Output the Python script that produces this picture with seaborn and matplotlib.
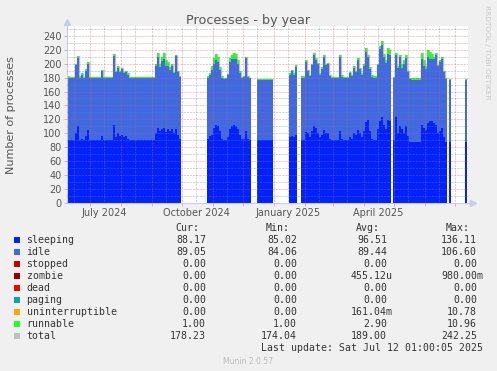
import numpy as np
import pandas as pd
import matplotlib
matplotlib.use('Agg')
import matplotlib.pyplot as plt
import matplotlib.dates as mdates
from matplotlib.patches import Rectangle
from matplotlib.lines import Line2D
import seaborn as sns

W, H = 497, 371

# data: 2-day bins starting 2024-06-08, None = no data (gaps in the graph)
start = pd.Timestamp('2024-06-08')

sleeping = [
    90, 90, 90, 90, 100, 110, 90, 92, 90, 96,
    105, 90, 90, 90, 90, 90, 90, 96, 90, 90,
    90, 90, 90, 112, 95, 100, 96, 98, 94, 96,
    92, 90, 90, 90, 90, 90, 90, 90, 90, 90,
    90, 90, 90, 90, 100, 108, 104, 106, 108, 102,
    106, 104, 106, 100, 106, 98, 92, None, None, None,
    None, None, None, None, None, None, None, None, None, None,
    92, 96, 98, 108, 112, 110, 104, 92, 90, 90,
    94, 106, 110, 112, 110, 106, 98, 92, 92, 104,
    92, 90, None, None, None, 90, 90, 90, 90, 90,
    90, 90, 90, None, None, None, None, None, None, None,
    None, 94, 96, 94, 98, None, None, 90, 90, 102,
    100, 94, 104, 110, 108, 100, 94, 98, 105, 100,
    100, 92, 90, 90, 90, 90, 104, 92, 90, 90,
    90, 94, 92, 100, 98, 105, 100, 94, 104, 116,
    119, 104, 92, 91, 91, 106, 118, 124, 112, 106,
    119, 118, None, 90, 124, 100, 110, 106, 100, 110,
    96, 88, 88, 88, 88, 88, 88, 112, 108, 105,
    115, 117, 117, 115, 112, 100, 104, 107, 95, 88,
    None, 88, None, None, None, None, None, None, None, 88,
]
idle = [
    89, 89, 90, 90, 98, 98, 90, 91, 90, 94,
    95, 90, 90, 90, 90, 90, 90, 94, 90, 90,
    90, 90, 90, 99, 93, 94, 92, 94, 92, 92,
    92, 90, 90, 90, 90, 90, 90, 90, 90, 90,
    90, 90, 90, 90, 97, 102, 91, 98, 99, 95,
    91, 87, 90, 86, 105, 90, 89, None, None, None,
    None, None, None, None, None, None, None, None, None, None,
    88, 88, 93, 92, 93, 92, 87, 88, 88, 88,
    89, 97, 96, 94, 96, 94, 89, 87, 89, 104,
    89, 89, None, None, None, 87, 87, 87, 87, 87,
    87, 87, 87, None, None, None, None, None, None, None,
    None, 90, 93, 90, 97, None, None, 90, 90, 100,
    89, 88, 94, 102, 97, 99, 90, 95, 105, 98,
    99, 90, 89, 89, 89, 89, 106, 89, 89, 89,
    89, 92, 90, 94, 90, 100, 92, 90, 93, 101,
    90, 89, 89, 89, 89, 92, 103, 103, 98, 95,
    95, 94, None, 89, 88, 94, 99, 88, 99, 98,
    92, 90, 89, 89, 89, 89, 89, 95, 89, 88,
    94, 90, 89, 91, 100, 96, 99, 100, 93, 90,
    None, 89, None, None, None, None, None, None, None, 89,
]
runnable = [
    3, 2, 1, 1, 2, 3, 2, 3, 1, 2,
    2, 1, 1, 1, 1, 1, 1, 1, 1, 1,
    1, 1, 1, 3, 2, 2, 2, 2, 2, 2,
    2, 1.5, 1.5, 1.5, 1.5, 1.5, 1.5, 1.5, 1.5, 1.5,
    1.5, 1.5, 1.5, 1.5, 3, 5, 5, 6, 8, 8,
    6, 4, 3, 2, 2, 2, 1, None, None, None,
    None, None, None, None, None, None, None, None, None, None,
    2, 3, 5, 8, 9, 8, 4, 2, 2, 2,
    2, 5, 7, 9, 8, 5, 3, 2, 1, 2,
    1, 1, None, None, None, 1, 1, 1, 1, 1,
    1, 1, 1, None, None, None, None, None, None, None,
    None, 2, 2, 2, 3, None, None, 2, 2, 3,
    2, 2, 2, 3, 3, 2, 2, 2, 3, 2,
    2, 2, 2, 2, 2, 2, 2, 2, 2, 2,
    2, 2, 2, 2, 2, 3, 2, 2, 3, 5,
    4, 2, 2, 2, 2, 2, 4, 5, 4, 4,
    8, 8, None, 2, 3, 2, 4, 6, 6, 5,
    2, 2, 2, 2, 2, 2, 2, 8, 8, 3,
    10, 10, 8, 4, 3, 2, 2, 3, 2, 2,
    None, 1, None, None, None, None, None, None, None, 1,
]

names = ['sleeping', 'idle', 'stopped', 'zombie', 'dead', 'paging',
         'uninterruptible', 'runnable', 'total']
colors = ['#0022ff', '#4169e1', '#cc0000', '#990000', '#ff0000', '#00aaaa',
          '#ffa500', '#22ff22', '#c0c0c0']
cur = ['88.17', '89.05', '0.00', '0.00', '0.00', '0.00', '0.00', '1.00', '178.23']
mins = ['85.02', '84.06', '0.00', '0.00', '0.00', '0.00', '0.00', '1.00', '174.04']
avgs = ['96.51', '89.44', '0.00', '455.12u', '0.00', '0.00', '161.04m', '2.90', '189.00']
maxs = ['136.11', '106.60', '0.00', '980.00m', '0.00', '0.00', '10.78', '10.96', '242.25']

x0 = mdates.date2num(start)
n = len(sleeping)
centers = x0 + 2 * np.arange(n) + 1

rows = []
for name, vals in [('sleeping', sleeping), ('idle', idle), ('runnable', runnable)]:
    for c, v in zip(centers, vals):
        if v is not None:
            rows.append({'x': c, 'value': v, 'series': name})
df = pd.DataFrame(rows)
pal = dict(zip(names, colors))

fig = plt.figure(figsize=(W / 100, H / 100), dpi=100, facecolor='#f0f0f0')
ax = fig.add_axes([67 / W, 1 - 203 / H, (468 - 67) / W, (203 - 26) / H])
ax.set_facecolor('white')

# total line under the stack so it only shows as a halo on the spikes
tot = np.array([np.nan if s is None else s + i + r
                for s, i, r in zip(sleeping, idle, runnable)])
ax.stairs(tot, x0 + 2 * np.arange(n + 1), baseline=None, color='#c0c0c0',
          lw=1.0, zorder=0.8)

sns.histplot(data=df, x='x', weights='value', hue='series',
             hue_order=['runnable', 'idle', 'sleeping'], palette=pal,
             multiple='stack', binwidth=2, binrange=(x0, x0 + 2 * n),
             element='bars', alpha=1, linewidth=0, legend=False, ax=ax,
             shrink=1, antialiased=False)

ax.set_xlim(x0, x0 + 401)
ax.set_ylim(0, 254)
ax.set_xlabel('')
ax.set_ylabel('')

# grid: red dotted majors, grey dotted minors, drawn on top of the data
ax.set_axisbelow(False)
ax.set_yticks(range(0, 241, 20))
ax.set_yticks(range(10, 251, 20), minor=True)
month_starts = pd.date_range('2024-07-01', '2025-07-01', freq='MS')
mid_months = pd.date_range('2024-06-01', '2025-06-01', freq='MS') + pd.Timedelta(days=14)
ax.set_xticks(mdates.date2num(month_starts), labels=[''] * len(month_starts))
mid_labels = [d.strftime('%B %Y') if d.month in (1, 4, 7, 10) else '' for d in mid_months]
ax.set_xticks(mdates.date2num(mid_months), labels=mid_labels, minor=True)

ax.grid(which='major', color=(0.88, 0.35, 0.35, 0.5), lw=0.5, ls=(0, (0.7, 1.4)))
ax.grid(which='minor', color=(0.5, 0.5, 0.5, 0.45), lw=0.5, ls=(0, (0.7, 1.4)))

ax.tick_params(axis='both', which='major', length=2, width=0.6,
               color='#e8a0a0', labelsize=7, labelcolor='#555555', pad=2)
ax.tick_params(axis='x', which='minor', length=0, labelsize=7,
               labelcolor='#555555', pad=3.5)
ax.tick_params(axis='y', which='minor', length=0)

for side in ['top', 'right']:
    ax.spines[side].set_visible(False)
for side in ['left', 'bottom']:
    ax.spines[side].set_color('#c8ccf0')
    ax.spines[side].set_linewidth(0.8)


def fx(x):
    return x / W


def fy(y):
    return 1 - y / H


# axis arrows
fig.add_artist(Line2D([fx(67), fx(67)], [fy(26), fy(22)], color='#c8ccf0', lw=0.8))
fig.add_artist(Line2D([fx(468), fx(473)], [fy(203), fy(203)], color='#c8ccf0', lw=0.8))
fig.add_artist(Line2D([fx(67)], [fy(22)], marker='^', ms=4, color='#c8ccf0', lw=0))
fig.add_artist(Line2D([fx(473)], [fy(203)], marker='>', ms=4, color='#c8ccf0', lw=0))

fig.text(fx(248), fy(24), 'Processes - by year', ha='center', va='baseline',
         fontsize=9.2, color='#555555')
fig.text(fx(11), fy(115), 'Number of processes', rotation=90, ha='center',
         va='center', fontsize=8, color='#555555')
fig.text(fx(487), fy(5), 'RRDTOOL / TOBI OETIKER', rotation=270, ha='center',
         va='top', fontsize=5.3, color='#c8c8c8')

mono = 'DejaVu Sans Mono'
fs = 7.1
txt = '#333333'
col_x = [206, 297, 387, 477]
for hx, label in zip(col_x, ['Cur:', 'Min:', 'Avg:', 'Max:']):
    fig.text(fx(hx - 7), fy(228), label, ha='right', va='center',
             family=mono, fontsize=fs, color=txt)

for k, name in enumerate(names):
    yc = 240 + 12 * k
    fig.add_artist(Rectangle((fx(14), fy(yc + 3)), 6 / W, 6 / H,
                             facecolor=colors[k], edgecolor='none'))
    fig.text(fx(26.5), fy(yc), name, ha='left', va='center', family=mono,
             fontsize=fs, color=txt)
    for cx, vals in zip(col_x, [cur, mins, avgs, maxs]):
        s = vals[k]
        right = cx + (6 if s[-1].isalpha() else 0)
        fig.text(fx(right), fy(yc), s, ha='right', va='center', family=mono,
                 fontsize=fs, color=txt)

fig.text(fx(483), fy(348), 'Last update: Sat Jul 12 01:00:05 2025',
         ha='right', va='center', family=mono, fontsize=fs, color=txt)
fig.text(fx(248), fy(361), 'Munin 2.0.57', ha='center', va='center',
         fontsize=5.5, color='#bbbbbb')

fig.savefig('out.png', dpi=100, facecolor=fig.get_facecolor())
